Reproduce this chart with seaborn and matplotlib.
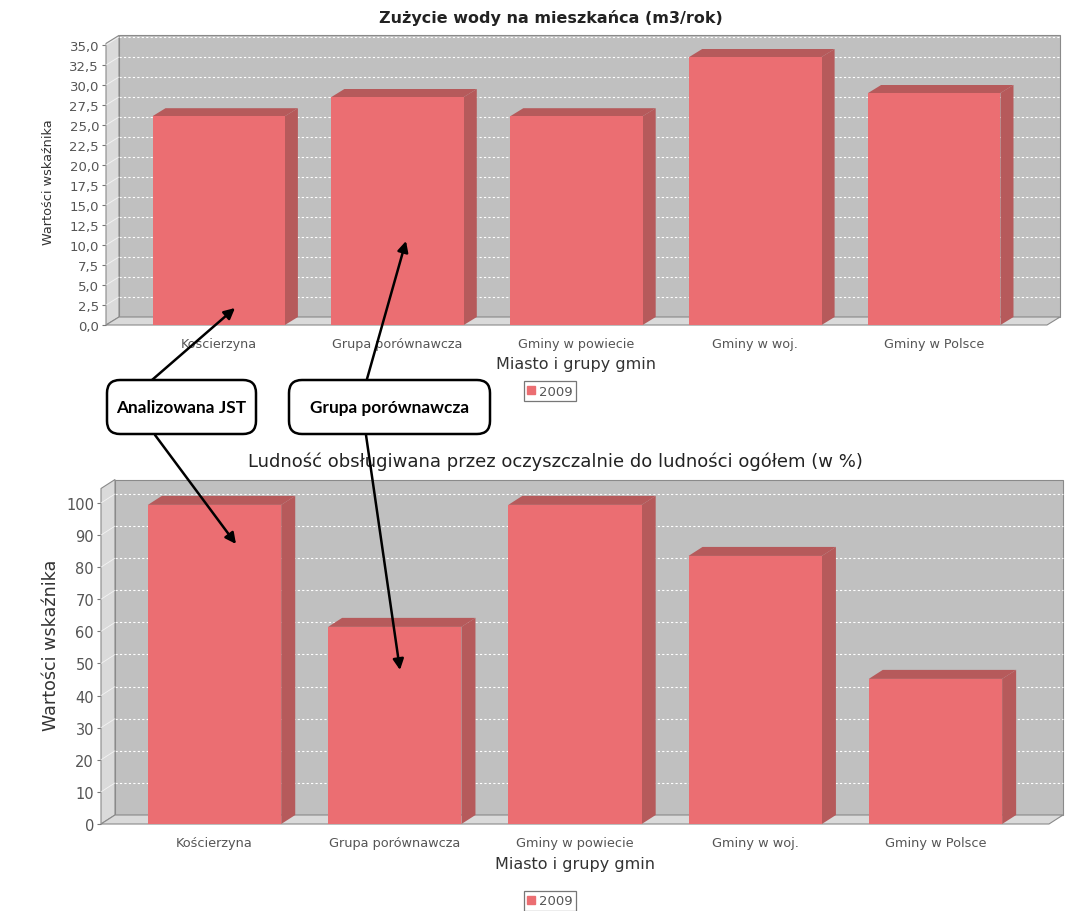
import matplotlib
matplotlib.use("Agg")
import matplotlib.pyplot as plt
import seaborn as sns
from matplotlib.patches import Polygon, Rectangle, FancyBboxPatch, FancyArrowPatch, Patch
from matplotlib.transforms import IdentityTransform

# ---- data -------------------------------------------------------------
categories = ["Kościerzyna", "Grupa porównawcza", "Gminy w powiecie",
              "Gminy w woj.", "Gminy w Polsce"]
water_use = [26.1, 28.5, 26.1, 33.5, 29.0]          # m3 per inhabitant / year
sewage_share = [99.4, 61.4, 99.4, 83.5, 45.2]        # % of population served
water_ticks = [0, 2.5, 5, 7.5, 10, 12.5, 15, 17.5, 20, 22.5, 25, 27.5, 30, 32.5, 35]
sewage_ticks = [0, 10, 20, 30, 40, 50, 60, 70, 80, 90, 100]
series_label = "2009"

water_title = "Zużycie wody na mieszkańca (m3/rok)"
sewage_title = "Ludność obsługiwana przez oczyszczalnie do ludności ogółem (w %)"
x_title = "Miasto i grupy gmin"
y_title = "Wartości wskaźnika"

# ---- style ------------------------------------------------------------
sns.set_theme(style="white")
plt.rcParams["font.family"] = ["DejaVu Sans"]

W, H, DPI = 1070, 912, 100
FRONT = "#eb6e72"
SHADE = "#b65a5b"
WALL = "#c0c0c0"
SIDE_WALL = "#dadada"
OUTLINE = "#8a8a8a"
TXT = "#555555"

fig = plt.figure(figsize=(W / DPI, H / DPI), dpi=DPI)
fig.patch.set_facecolor("white")


def px_box(left, top, right, bottom):
    """Figure-fraction rectangle from pixel edges (origin top-left)."""
    return [left / W, 1 - bottom / H, (right - left) / W, (bottom - top) / H]


def panel(rect, values, ticks, decimals, ytop, depth, tick_fs, xtick_fs,
          xlabel_fs, ylabel_fs, ylabel_xy, xlabel_pad):
    ax = fig.add_axes(rect)
    sns.barplot(x=categories, y=values, ax=ax, color=FRONT, saturation=1,
                width=0.74, edgecolor="none", zorder=3)
    bars = list(ax.patches)

    x0, x1 = -0.63, len(categories) - 1 + 0.63
    ax.set_xlim(x0, x1)
    ax.set_ylim(0, ytop)
    ax.set_facecolor("none")
    for s in ax.spines.values():
        s.set_visible(False)

    # pixel depth of the 3D effect converted to data units
    ax_w = rect[2] * W
    ax_h = rect[3] * H
    ddx = depth[0] * (x1 - x0) / ax_w
    ddy = depth[1] * ytop / ax_h

    # back wall, left wall and floor
    ax.add_patch(Rectangle((x0 + ddx, ddy), x1 - x0, ytop, facecolor=WALL,
                           edgecolor=OUTLINE, lw=0.8, clip_on=False, zorder=0.5))
    ax.add_patch(Polygon([(x0, 0), (x0, ytop), (x0 + ddx, ytop + ddy), (x0 + ddx, ddy)],
                         closed=True, facecolor=SIDE_WALL, edgecolor=OUTLINE,
                         lw=0.8, clip_on=False, zorder=0.7))
    ax.add_patch(Polygon([(x0, 0), (x1, 0), (x1 + ddx, ddy), (x0 + ddx, ddy)],
                         closed=True, facecolor=SIDE_WALL, edgecolor=OUTLINE,
                         lw=0.8, clip_on=False, zorder=0.7))

    # grid lines on back and left walls
    for t in ticks[1:]:
        ax.plot([x0 + ddx, x1 + ddx], [t + ddy, t + ddy], color="white",
                lw=0.8, ls=(0, (2, 2)), clip_on=False, zorder=0.6)
        ax.plot([x0, x0 + ddx], [t, t + ddy], color="white", lw=0.6,
                alpha=0.7, clip_on=False, zorder=0.8)

    # top and side faces of each bar
    for p in bars:
        bx, bw, h = p.get_x(), p.get_width(), p.get_height()
        ax.add_patch(Polygon([(bx + bw, 0), (bx + bw, h), (bx + bw + ddx, h + ddy),
                              (bx + bw + ddx, ddy)], closed=True, facecolor=SHADE,
                             edgecolor="none", clip_on=False, zorder=2.9))
        ax.add_patch(Polygon([(bx, h), (bx + bw, h), (bx + bw + ddx, h + ddy),
                              (bx + ddx, h + ddy)], closed=True, facecolor=SHADE,
                             edgecolor="none", clip_on=False, zorder=2.9))

    ax.set_yticks(ticks)
    fmt = "{:.%df}" % decimals
    ax.set_yticklabels([fmt.format(t).replace(".", ",") for t in ticks])
    ax.tick_params(axis="y", length=3, width=0.8, color="#777777", pad=2,
                   labelsize=tick_fs, labelcolor=TXT, left=True)
    ax.tick_params(axis="x", length=0, pad=9, labelsize=xtick_fs, labelcolor=TXT)

    ax.set_xlabel(x_title, fontsize=xlabel_fs, color="#333333", labelpad=xlabel_pad)
    ax.set_ylabel(y_title, fontsize=ylabel_fs, color="#333333")
    ax.yaxis.set_label_coords(*ylabel_xy)
    return ax


ax_top = panel(px_box(106, 44.4, 1047, 326), water_use, water_ticks, 1, 35.2,
               (13, 8), 9.5, 9.2, 11.5, 9.3, (-0.054, 0.51), 4)
ax_bot = panel(px_box(101, 489.5, 1049, 825), sewage_share, sewage_ticks, 0, 104.5,
               (14, 9), 10.5, 9.3, 11.5, 12.6, (-0.043, 0.537), 5)

fig.text(551 / W, 1 - 18 / H, water_title, ha="center", va="center",
         fontsize=11.5, fontweight="bold", color="#222222")
fig.text(555 / W, 1 - 462 / H, sewage_title, ha="center", va="center",
         fontsize=13, color="#222222")

for ycen in (392, 902):
    leg = fig.legend(handles=[Patch(color=FRONT, label=series_label)],
                     loc="center", bbox_to_anchor=(550 / W, 1 - ycen / H),
                     frameon=True, fancybox=False, fontsize=9.5,
                     handlelength=0.6, handleheight=0.6, handletextpad=0.3,
                     borderpad=0.25, borderaxespad=0)
    leg.get_frame().set_edgecolor("#555555")
    leg.get_frame().set_linewidth(0.9)
    for t in leg.get_texts():
        t.set_color(TXT)

# callout boxes with arrows
callouts = [
    ("Analizowana JST", (107, 381, 256, 435)),
    ("Grupa porównawcza", (289, 381, 490, 435)),
]
for text, (l, t, r, b) in callouts:
    fig.add_artist(FancyBboxPatch((l, H - b), r - l, b - t,
                                  boxstyle="round,pad=0,rounding_size=13",
                                  transform=IdentityTransform(), facecolor="white",
                                  edgecolor="black", lw=1.8, zorder=10))
    fig.text((l + r) / 2 / W, 1 - (t + b) / 2 / H, text, ha="center", va="center",
             fontsize=12.4, fontweight="bold", family=["Lato", "DejaVu Sans"],
             color="black", zorder=11)

arrows = [((152, 381), (235, 309)), ((155, 436), (236, 545)),
          ((367, 380), (406, 242)), ((366, 436), (400, 671))]
for (xa, ya), (xb, yb) in arrows:
    fig.add_artist(FancyArrowPatch((xa, H - ya), (xb, H - yb),
                                   transform=IdentityTransform(),
                                   arrowstyle="-|>", mutation_scale=16, lw=1.8,
                                   color="black", shrinkA=0, shrinkB=0, zorder=9))

fig.savefig("out.png", dpi=DPI)
